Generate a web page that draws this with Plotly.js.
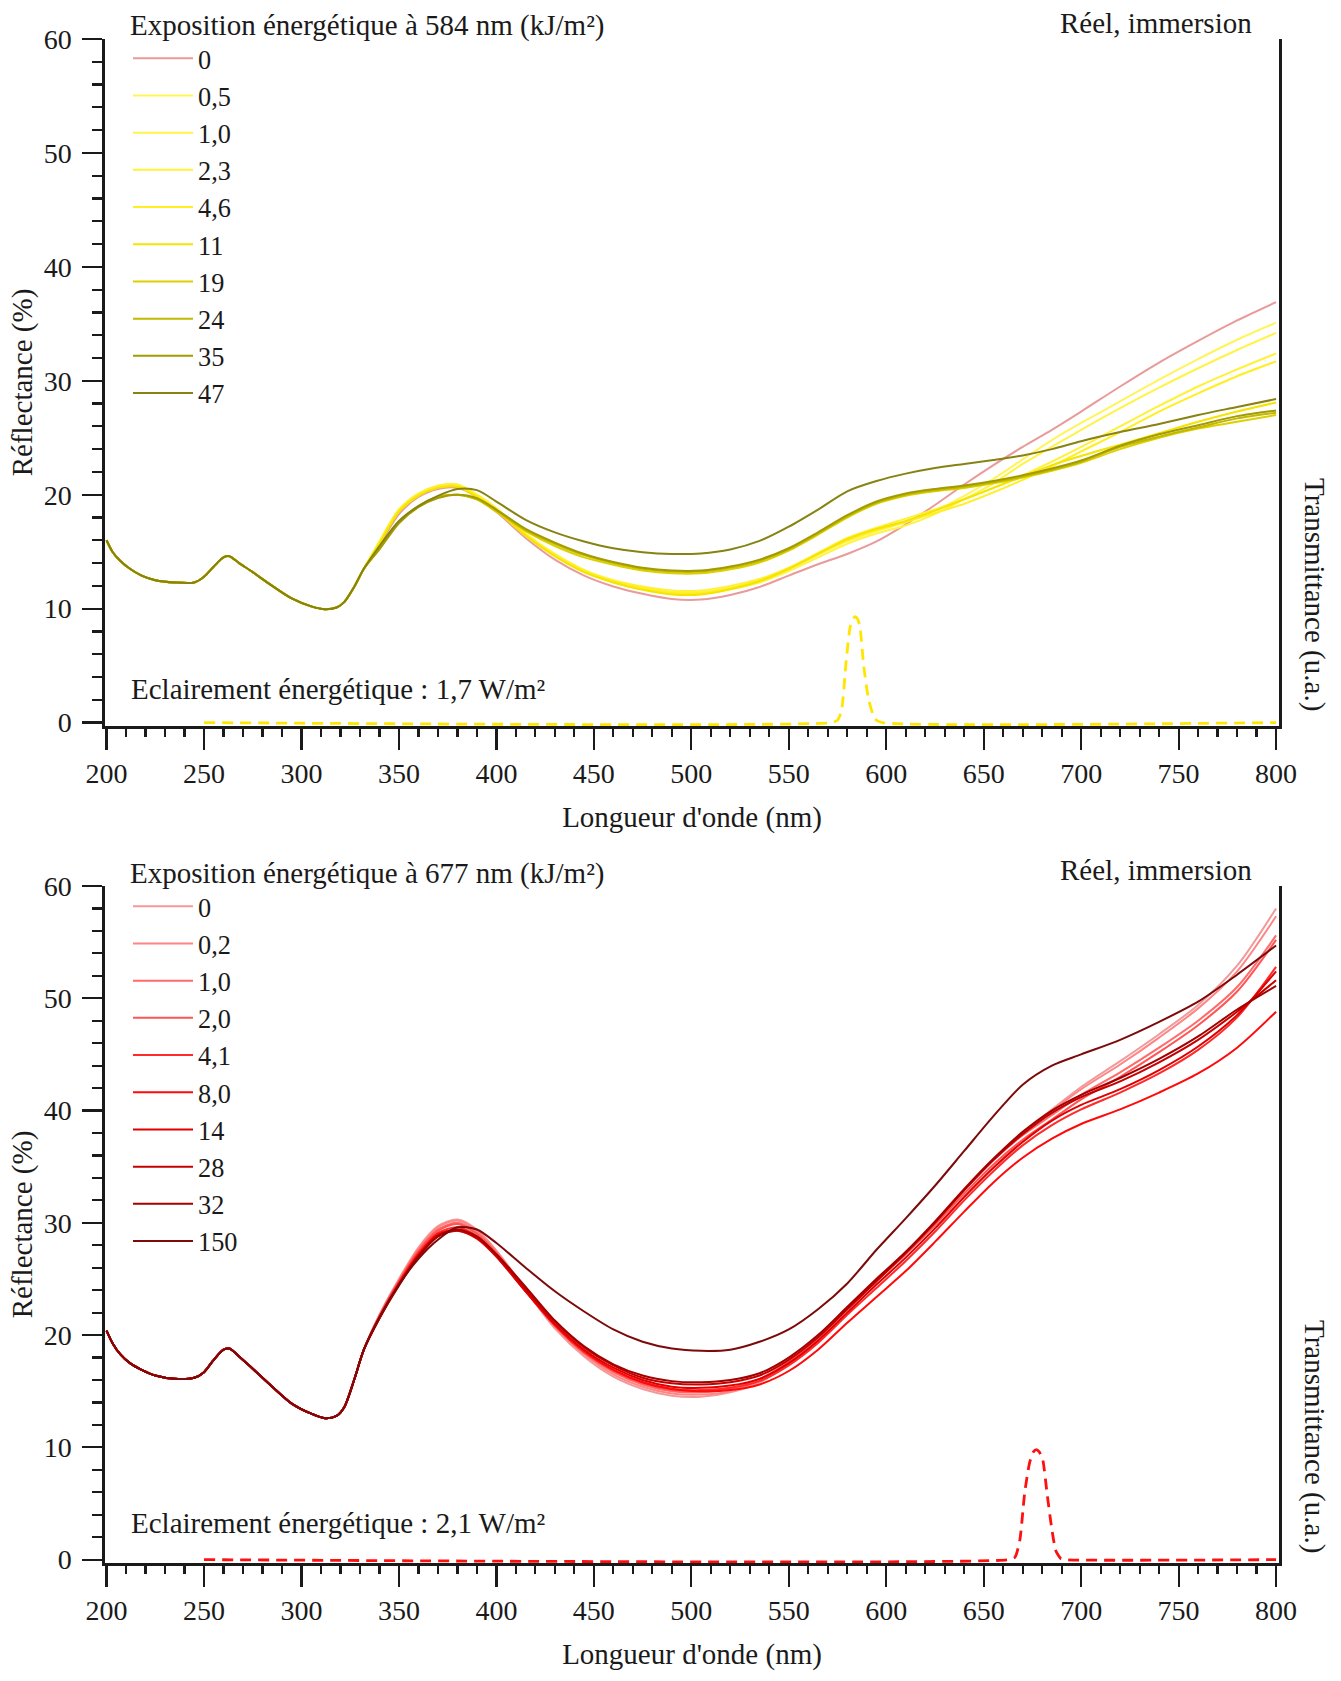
<!DOCTYPE html>
<html>
<head>
<meta charset="utf-8">
<script src="https://cdn.plot.ly/plotly-3.0.1.min.js"></script>
<style>
  html, body { margin: 0; padding: 0; background: #ffffff; }
  #chart { width: 1341px; height: 1681px; }
</style>
</head>
<body>
<div id="chart"></div>
<script>
// ---------- wavelengths (nm) ----------
const wlUV = [200, 203, 207, 212, 218, 225, 235, 245, 250, 255, 260, 263, 268, 275, 285, 295, 305, 312, 318, 322, 327, 332];
const wlVis = [340, 350, 360, 370, 380, 390, 400, 415, 430, 445, 460, 475, 490, 505, 520, 535, 550, 565, 580, 595, 610, 625, 640, 655, 670, 685, 700, 720, 740, 760, 780, 800];

// ---------- top panel : 584 nm exposure (kJ/m²) ----------
const topLabels = ['0', '0,5', '1,0', '2,3', '4,6', '11', '19', '24', '35', '47'];
const topColors = ['#e99a9a', '#fff55a', '#fff347', '#fff138', '#ffee22', '#f5e400', '#ddd000', '#c2b800', '#a39c00', '#878212'];
const topUV = [16.0, 15.0, 14.2, 13.5, 12.9, 12.5, 12.3, 12.3, 12.8, 13.7, 14.5, 14.6, 14.0, 13.2, 12.0, 10.9, 10.2, 9.95, 10.1, 10.6, 11.9, 13.5];
const top_0   = [15.6, 18.3, 19.8, 20.5, 20.6, 19.8, 18.5, 16.2, 14.3, 12.9, 11.95, 11.3, 10.85, 10.8, 11.2, 11.9, 12.9, 13.9, 14.8, 15.9, 17.4, 19.1, 20.9, 22.6, 24.2, 25.7, 27.3, 29.5, 31.6, 33.5, 35.3, 36.9];
const top_0_5 = [15.9, 18.7, 20.1, 20.8, 20.9, 20.0, 18.8, 16.5, 14.7, 13.3, 12.4, 11.85, 11.5, 11.45, 11.85, 12.4, 13.4, 14.7, 15.9, 16.8, 17.6, 18.6, 19.9, 21.4, 23.1, 24.8, 26.3, 28.2, 30.1, 31.9, 33.6, 35.1];
const top_1_0 = [15.8, 18.6, 20.0, 20.7, 20.8, 19.9, 18.7, 16.4, 14.6, 13.2, 12.3, 11.7, 11.35, 11.3, 11.7, 12.3, 13.3, 14.5, 15.7, 16.6, 17.3, 18.3, 19.6, 21.0, 22.7, 24.2, 25.7, 27.6, 29.4, 31.1, 32.7, 34.2];
const top_2_3 = [15.9, 18.7, 20.1, 20.8, 20.9, 20.0, 18.8, 16.6, 14.8, 13.4, 12.5, 11.95, 11.6, 11.6, 12.0, 12.6, 13.6, 14.9, 16.2, 17.1, 17.9, 18.7, 19.6, 20.6, 21.7, 22.9, 24.2, 26.0, 27.8, 29.5, 31.0, 32.4];
const top_4_6 = [15.8, 18.6, 20.0, 20.7, 20.8, 19.9, 18.7, 16.5, 14.7, 13.3, 12.4, 11.8, 11.4, 11.4, 11.8, 12.5, 13.5, 14.8, 16.0, 16.9, 17.6, 18.4, 19.2, 20.2, 21.3, 22.5, 23.8, 25.5, 27.3, 28.9, 30.4, 31.7];
const top_11  = [15.7, 18.5, 19.9, 20.6, 20.7, 19.8, 18.6, 16.4, 14.6, 13.2, 12.3, 11.65, 11.25, 11.25, 11.7, 12.4, 13.5, 14.8, 16.1, 17.0, 17.7, 18.6, 19.6, 20.6, 21.6, 22.6, 23.4, 24.4, 25.4, 26.4, 27.3, 28.1];
const top_19  = [15.3, 17.6, 19.0, 19.8, 20.0, 19.6, 18.5, 16.8, 15.5, 14.5, 13.85, 13.35, 13.1, 13.1, 13.45, 14.05, 15.1, 16.5, 18.0, 19.2, 19.9, 20.3, 20.6, 21.0, 21.5, 22.1, 22.8, 24.0, 25.0, 25.8, 26.4, 27.0];
const top_24  = [15.3, 17.6, 19.0, 19.8, 20.0, 19.6, 18.6, 16.9, 15.7, 14.7, 14.0, 13.5, 13.25, 13.25, 13.6, 14.2, 15.2, 16.6, 18.1, 19.3, 20.0, 20.4, 20.7, 21.1, 21.6, 22.2, 22.9, 24.2, 25.1, 25.9, 26.7, 27.2];
const top_35  = [15.2, 17.5, 18.9, 19.7, 20.0, 19.7, 18.7, 17.0, 15.8, 14.8, 14.1, 13.6, 13.35, 13.35, 13.7, 14.3, 15.3, 16.7, 18.2, 19.4, 20.1, 20.5, 20.8, 21.2, 21.7, 22.3, 23.0, 24.3, 25.3, 26.1, 26.9, 27.4];
const top_47  = [15.5, 17.7, 19.0, 19.9, 20.5, 20.4, 19.4, 17.8, 16.7, 15.9, 15.3, 14.95, 14.8, 14.85, 15.2, 15.95, 17.2, 18.7, 20.3, 21.2, 21.85, 22.35, 22.7, 23.05, 23.45, 24.0, 24.7, 25.5, 26.2, 27.0, 27.7, 28.4];
const topSeries = [top_0, top_0_5, top_1_0, top_2_3, top_4_6, top_11, top_19, top_24, top_35, top_47];

// LED transmittance, 584 nm (u.a.)
const transTopX = [250, 572, 575, 577, 579.5, 581.5, 583, 584, 585.3, 586.5, 588.5, 591, 594.3, 598, 800];
const transTopY = [0, 0, 0.2, 1.0, 5.5, 8.4, 9.1, 9.3, 9.1, 8.4, 4.9, 2.0, 0.3, 0, 0];

// ---------- bottom panel : 677 nm exposure (kJ/m²) ----------
const botLabels = ['0', '0,2', '1,0', '2,0', '4,1', '8,0', '14', '28', '32', '150'];
const botColors = ['#f29a9a', '#ff8585', '#ff6a6a', '#ff5555', '#ff2a2a', '#ff0a0a', '#e00000', '#c40000', '#a30000', '#7c0a0a'];
const botUV = [20.4, 19.3, 18.3, 17.5, 16.9, 16.4, 16.1, 16.2, 16.7, 17.8, 18.7, 18.8, 18.1, 17.0, 15.4, 13.9, 13.0, 12.6, 12.8, 13.6, 16.0, 18.7];
const bot_0   = [21.8, 25.0, 27.8, 29.7, 30.3, 29.4, 27.5, 24.0, 20.6, 18.1, 16.3, 15.2, 14.6, 14.5, 14.9, 15.8, 17.4, 19.6, 22.3, 24.9, 27.3, 30.0, 32.9, 35.6, 38.0, 40.1, 42.1, 44.4, 46.8, 49.4, 52.9, 58.0];
const bot_0_2 = [21.8, 24.9, 27.7, 29.6, 30.2, 29.3, 27.5, 24.1, 20.8, 18.3, 16.5, 15.4, 14.8, 14.7, 15.0, 15.9, 17.5, 19.7, 22.4, 25.0, 27.4, 30.1, 33.0, 35.7, 38.0, 40.0, 41.9, 44.1, 46.5, 49.1, 52.4, 57.3];
const bot_1_0 = [21.7, 24.8, 27.5, 29.4, 30.0, 29.1, 27.3, 24.0, 20.8, 18.4, 16.7, 15.6, 15.0, 14.9, 15.2, 16.0, 17.6, 19.8, 22.5, 25.0, 27.4, 30.1, 33.0, 35.6, 37.8, 39.6, 41.4, 43.4, 45.6, 48.0, 51.0, 55.6];
const bot_2_0 = [21.7, 24.8, 27.5, 29.3, 29.9, 29.0, 27.3, 24.0, 20.9, 18.5, 16.8, 15.7, 15.1, 15.0, 15.3, 16.1, 17.6, 19.7, 22.3, 24.8, 27.2, 29.8, 32.6, 35.2, 37.4, 39.2, 41.0, 43.0, 45.2, 47.6, 50.6, 55.2];
const bot_4_1 = [21.6, 24.7, 27.3, 29.1, 29.6, 28.8, 27.1, 23.9, 20.9, 18.5, 16.9, 15.8, 15.2, 15.1, 15.3, 15.9, 17.3, 19.3, 21.8, 24.2, 26.6, 29.2, 32.0, 34.6, 36.9, 38.7, 40.1, 41.6, 43.3, 45.4, 48.3, 52.8];
const bot_8_0 = [21.6, 24.6, 27.2, 29.0, 29.4, 28.7, 27.0, 23.9, 20.9, 18.6, 16.9, 15.8, 15.2, 15.0, 15.1, 15.6, 16.8, 18.7, 21.1, 23.4, 25.7, 28.3, 31.0, 33.6, 35.8, 37.5, 38.8, 40.1, 41.6, 43.3, 45.6, 48.8];
const bot_14  = [21.5, 24.5, 27.1, 28.9, 29.3, 28.6, 27.0, 23.9, 21.0, 18.7, 17.1, 16.0, 15.4, 15.3, 15.5, 16.1, 17.5, 19.5, 22.0, 24.5, 26.9, 29.5, 32.3, 34.9, 37.2, 39.1, 40.5, 41.9, 43.6, 45.7, 48.5, 52.4];
const bot_28  = [21.5, 24.5, 27.0, 28.8, 29.3, 28.7, 27.1, 24.1, 21.2, 18.9, 17.3, 16.2, 15.7, 15.6, 15.8, 16.4, 17.8, 19.8, 22.3, 24.8, 27.3, 30.0, 32.9, 35.6, 37.9, 39.8, 41.2, 42.6, 44.3, 46.3, 48.8, 51.6];
const bot_32  = [21.5, 24.4, 27.0, 28.8, 29.4, 28.8, 27.2, 24.3, 21.3, 19.0, 17.4, 16.4, 15.9, 15.8, 16.0, 16.6, 18.0, 20.0, 22.5, 25.0, 27.4, 30.1, 33.0, 35.7, 38.1, 40.0, 41.4, 42.9, 44.6, 46.6, 49.0, 51.1];
const bot_150 = [21.6, 24.5, 26.8, 28.5, 29.6, 29.4, 28.2, 26.0, 23.9, 22.1, 20.5, 19.4, 18.8, 18.6, 18.7, 19.4, 20.5, 22.3, 24.6, 27.6, 30.4, 33.3, 36.4, 39.5, 42.3, 44.0, 45.0, 46.3, 47.9, 49.7, 52.1, 54.7];
const botSeries = [bot_0, bot_0_2, bot_1_0, bot_2_0, bot_4_1, bot_8_0, bot_14, bot_28, bot_32, bot_150];

// LED transmittance, 677 nm (u.a.)
const transBotX = [250, 663, 666, 668.5, 671, 673.5, 675.5, 677, 678.5, 680.3, 682.5, 684.8, 687, 689.5, 692, 800];
const transBotY = [0, 0, 0.2, 1.7, 5.9, 8.6, 9.6, 9.8, 9.6, 8.9, 5.9, 2.9, 0.8, 0.1, 0, 0];

// ---------- text ----------
const legendTitleTop = 'Exposition énergétique à 584 nm (kJ/m²)';
const legendTitleBot = 'Exposition énergétique à 677 nm (kJ/m²)';
const irrTop = 'Eclairement énergétique : 1,7 W/m²';
const irrBot = 'Eclairement énergétique : 2,1 W/m²';
const cornerText = 'Réel, immersion';
const xTitle = "Longueur d'onde (nm)";
const yTitle = 'Réflectance (%)';
const y2Title = 'Transmittance (u.a.)';

// ---------- build ----------
const FONT = 'Liberation Serif, Times New Roman, serif';
const INK = '#1a1a1a';
const BIG = 29;
const traces = [];
const wlAll = wlUV.concat(wlVis);

topSeries.forEach((s, i) => {
  traces.push({
    x: wlAll, y: topUV.concat(s), type: 'scatter', mode: 'lines',
    name: topLabels[i], line: {color: topColors[i], width: 2, shape: 'spline', smoothing: 0.8},
    xaxis: 'x', yaxis: 'y', legend: 'legend'
  });
});
traces.push({
  x: transTopX, y: transTopY, type: 'scatter', mode: 'lines', showlegend: false,
  line: {color: '#ffe600', width: 2.8, dash: '11px,7px', shape: 'spline', smoothing: 0.6},
  xaxis: 'x', yaxis: 'y3'
});
botSeries.forEach((s, i) => {
  traces.push({
    x: wlAll, y: botUV.concat(s), type: 'scatter', mode: 'lines',
    name: botLabels[i], line: {color: botColors[i], width: 2, shape: 'spline', smoothing: 0.8},
    xaxis: 'x2', yaxis: 'y2', legend: 'legend2'
  });
});
traces.push({
  x: transBotX, y: transBotY, type: 'scatter', mode: 'lines', showlegend: false,
  line: {color: '#ff1010', width: 2.8, dash: '11px,7px', shape: 'spline', smoothing: 0.6},
  xaxis: 'x2', yaxis: 'y4'
});

const H = 1681, MT = 39, MB = 118;
const plotH = H - MT - MB;
const pxToPaper = px => (H - MB - px) / plotH;

function xAxis(anchor) {
  return {
    anchor: anchor, domain: [0, 1], range: [199.2, 801.5],
    tickmode: 'array', tickvals: [200, 250, 300, 350, 400, 450, 500, 550, 600, 650, 700, 750, 800],
    ticks: 'outside', ticklen: 21, tickwidth: 2.2, tickcolor: INK,
    minor: {ticks: 'outside', ticklen: 8, tickwidth: 2.2, tickcolor: INK, dtick: 10, tick0: 200},
    showline: true, linewidth: 2.6, linecolor: INK, showgrid: false, zeroline: false,
    tickfont: {family: FONT, size: 28, color: INK}, ticklabelstandoff: 0,
    title: {text: xTitle, font: {family: FONT, size: BIG, color: INK}, standoff: 19}
  };
}
function yAxis(anchor, domain) {
  return {
    anchor: anchor, domain: domain, range: [-0.3, 60],
    tickmode: 'array', tickvals: [0, 10, 20, 30, 40, 50, 60],
    ticks: 'outside', ticklen: 20, tickwidth: 2.2, tickcolor: INK,
    minor: {ticks: 'outside', ticklen: 10, tickwidth: 2.2, tickcolor: INK, dtick: 2, tick0: 0},
    showline: true, linewidth: 2.6, linecolor: INK, showgrid: false, zeroline: false,
    tickfont: {family: FONT, size: 28, color: INK}, ticklabelstandoff: 5,
    title: {text: yTitle, font: {family: FONT, size: BIG, color: INK}, standoff: 3}
  };
}
function tAxis(overlay, anchorX) {
  return {
    overlaying: overlay, side: 'right', anchor: anchorX, range: [-0.3, 60],
    showline: true, linewidth: 2.6, linecolor: INK, ticks: '', showticklabels: false,
    showgrid: false, zeroline: false
  };
}

const topDomain = [pxToPaper(726), 1];
const botDomain = [0, pxToPaper(886)];

function legendCfg(yPx, title) {
  return {
    x: (128 - 105) / 1174, xanchor: 'left', y: pxToPaper(yPx), yanchor: 'top',
    bgcolor: 'rgba(0,0,0,0)', borderwidth: 0, itemwidth: 60,
    font: {family: FONT, size: 26.3, color: INK}, tracegroupgap: 0, traceorder: 'normal',
    title: {text: title, side: 'top', font: {family: FONT, size: BIG, color: INK}}
  };
}

const ann = (text, xPx, yPx, xanchor, extra) => Object.assign({
  text: text, xref: 'paper', yref: 'paper', x: (xPx - 105) / 1174, y: pxToPaper(yPx),
  xanchor: xanchor, yanchor: 'middle', showarrow: false,
  font: {family: FONT, size: BIG, color: INK}
}, extra || {});

const layout = {
  width: 1341, height: 1681,
  margin: {l: 105, r: 62, t: MT, b: MB, autoexpand: false},
  paper_bgcolor: '#ffffff', plot_bgcolor: '#ffffff',
  font: {family: FONT, size: 26, color: INK},
  xaxis: xAxis('y'),
  yaxis: yAxis('x', topDomain),
  xaxis2: xAxis('y2'),
  yaxis2: yAxis('x2', botDomain),
  yaxis3: tAxis('y', 'x'),
  yaxis4: tAxis('y2', 'x2'),
  legend: legendCfg(-3, legendTitleTop),
  legend2: legendCfg(845, legendTitleBot),
  annotations: [
    ann(cornerText, 1254, 23, 'right'),
    ann(cornerText, 1254, 870, 'right'),
    ann(irrTop, 129, 689, 'left'),
    ann(irrBot, 129, 1523, 'left'),
    ann(y2Title, 1315, 594, 'center', {textangle: 90, xanchor: 'center'}),
    ann(y2Title, 1315, 1436, 'center', {textangle: 90, xanchor: 'center'})
  ],
  showlegend: true
};

Plotly.newPlot('chart', traces, layout, {staticPlot: true, displayModeBar: false});
</script>
</body>
</html>
